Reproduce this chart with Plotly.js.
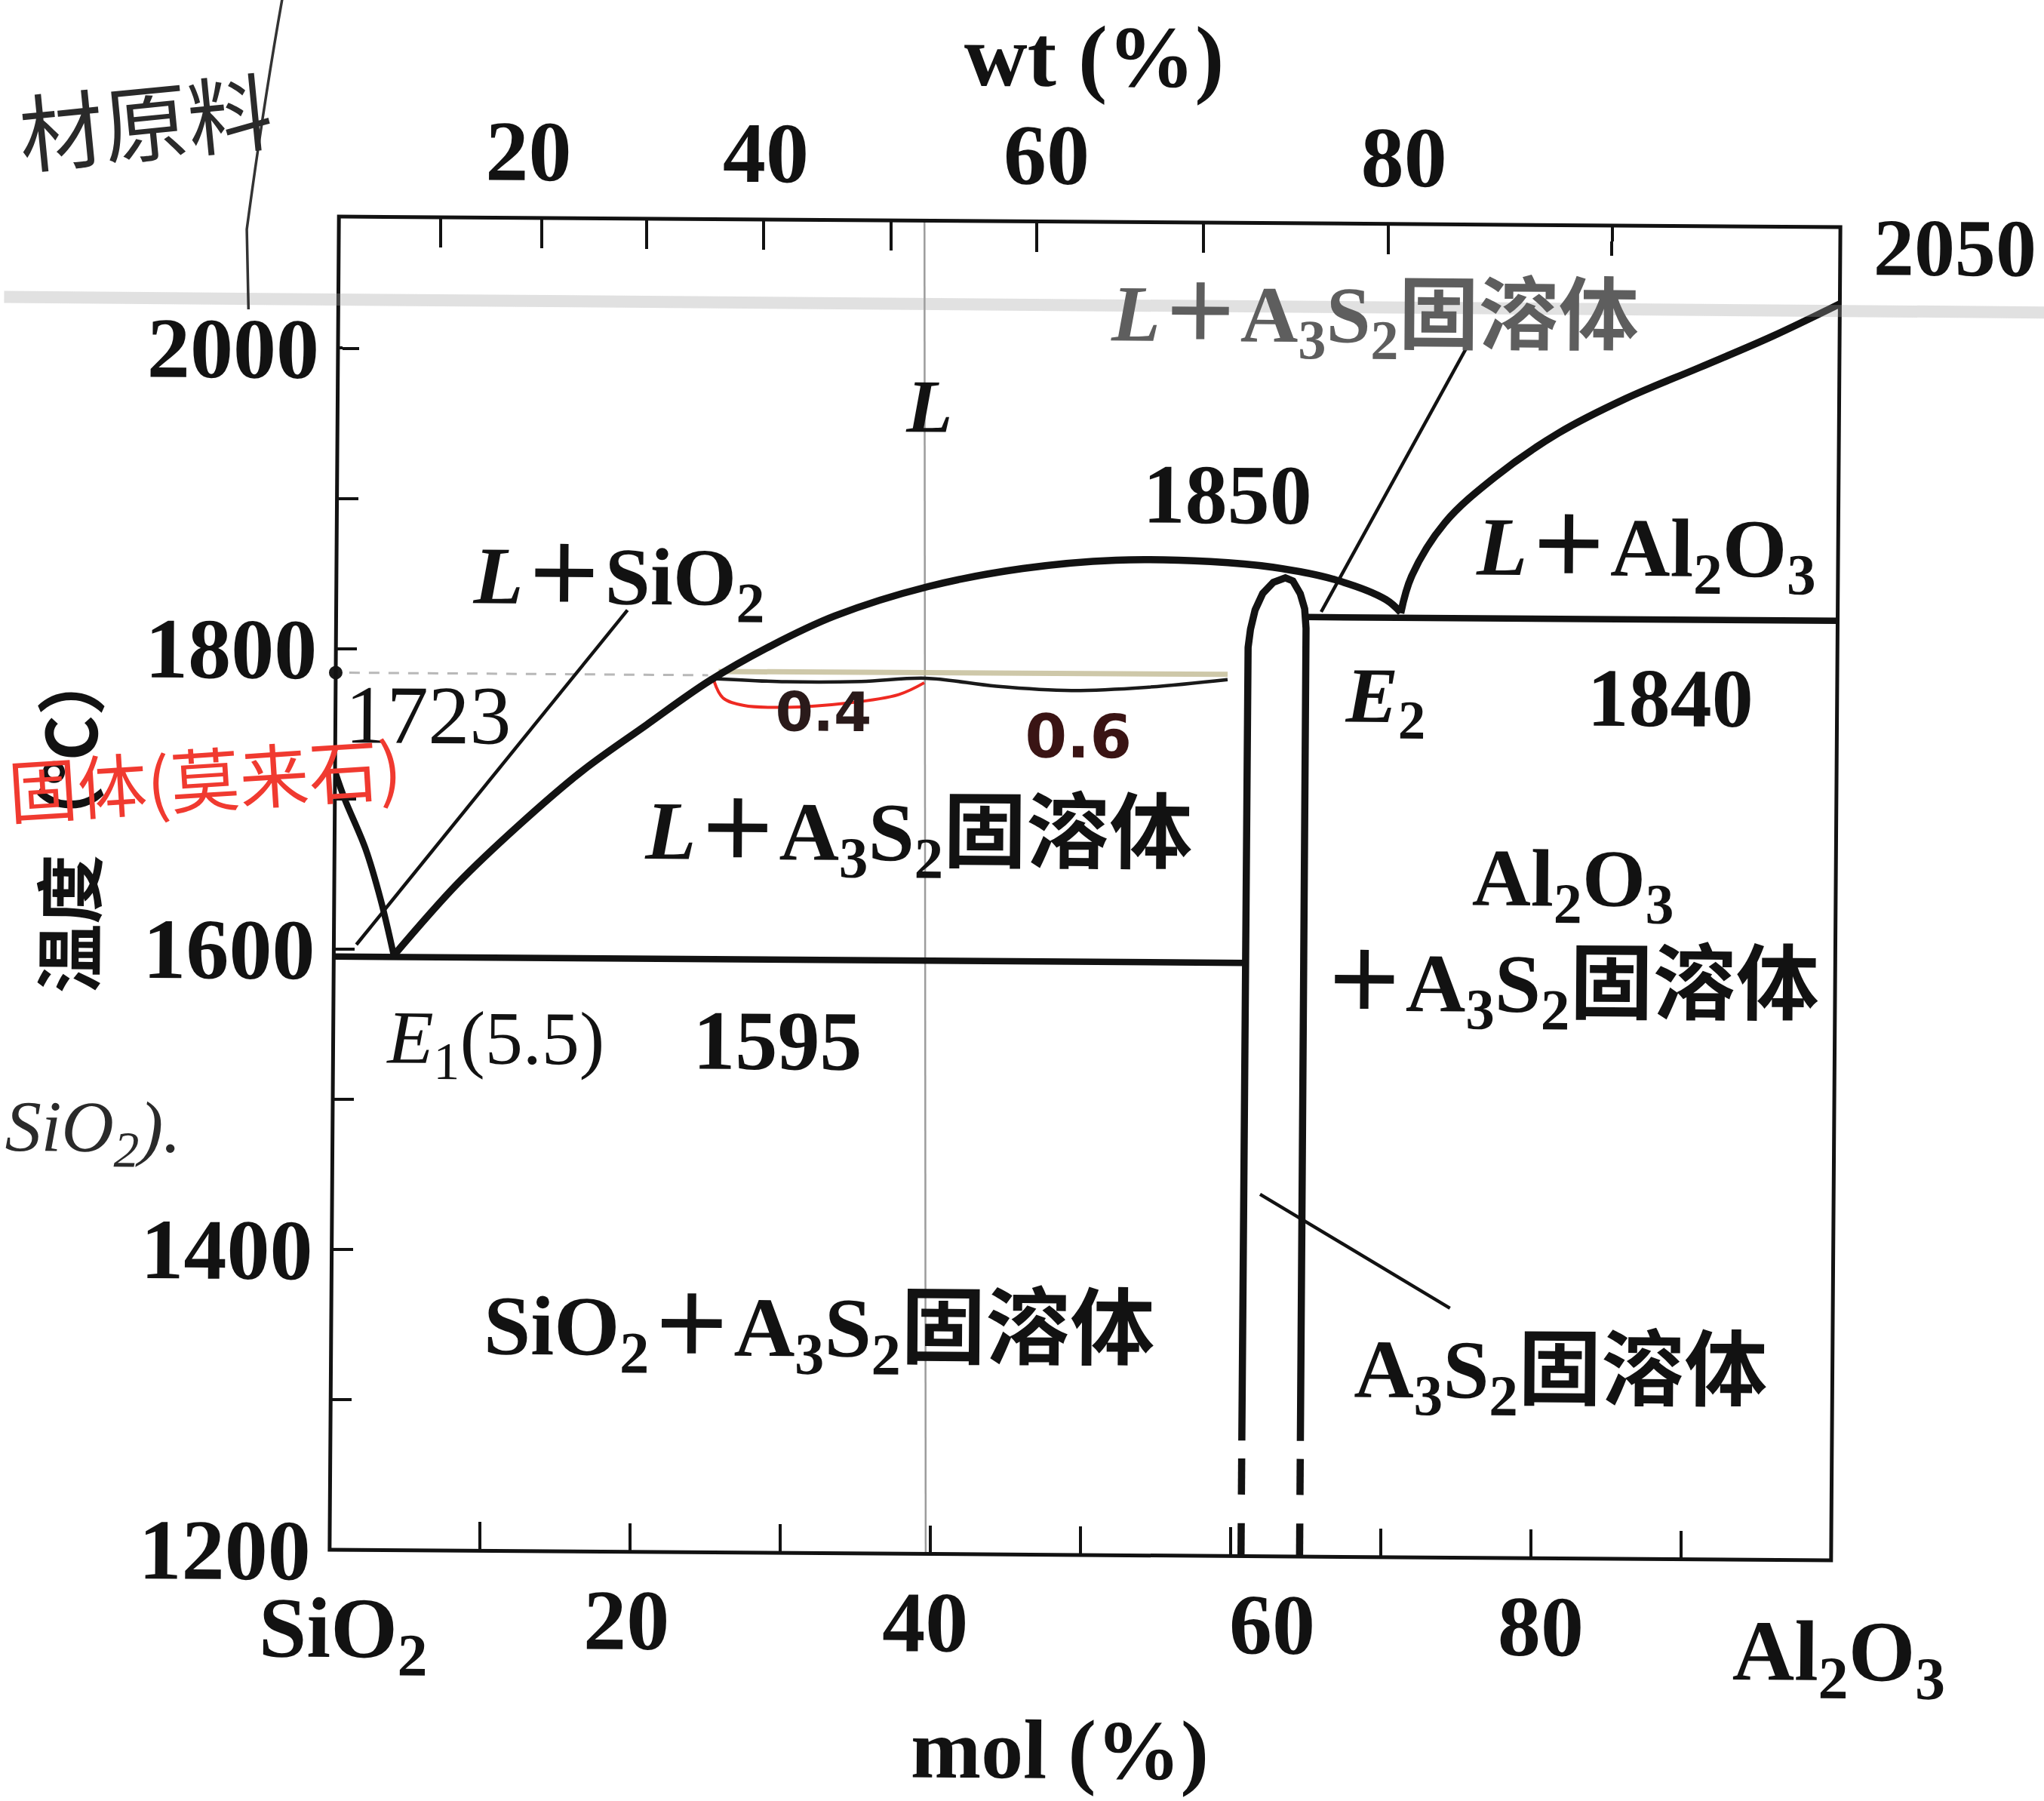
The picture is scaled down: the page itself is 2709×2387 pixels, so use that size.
<!DOCTYPE html>
<html>
<head>
<meta charset="utf-8">
<script src="https://cdn.plot.ly/plotly-3.0.1.min.js"></script>
<style>
  html, body { margin: 0; padding: 0; background: #ffffff; overflow: hidden; }
  #chart { width: 2709px; height: 2387px; transform: rotate(0.4deg); transform-origin: 1438px 1177px; }
</style>
</head>
<body>
<div id="chart"></div>
<script>
// ---------------- data ----------------
// composition: mol % Al2O3 (bottom axis); temperature in °C
const molTicks = [10, 20, 30, 40, 50, 60, 70, 80, 90];
const molLabelPos = [19.8, 39.7, 62.8, 80.7];
const molLabels = ['20', '40', '60', '80'];
// positions (in mol %) of the wt % ticks printed on the top axis
const wtTickMol = [6.8, 13.5, 20.5, 28.3, 36.8, 46.5, 57.6, 69.9, 84.8];
const wtLabelPos = [12.6, 28.4, 47.1, 70.9];
const wtLabels = ['20', '40', '60', '80'];
const tempTicks = [1200, 1300, 1400, 1500, 1600, 1700, 1800, 1900, 2000];
const tempLabelVals = [1200, 1400, 1600, 1800, 2000];
const tempLabels = ['1200', '1400', '1600', '1800', '2000'];

// SiO2 liquidus: 1723 -> E1
const sio2LiqX = [0, 0.65, 2.06, 3.1, 4.0];
const sio2LiqT = [1718, 1700, 1667, 1633, 1596];
// A3S2 (mullite) liquidus: E1 -> maximum -> E2
const mulLiqX = [4.0, 8.2, 12.35, 16.5, 20.7, 24.85, 29.0, 33.2, 39.4, 45.7, 51.9, 58.2, 62.35, 66.5, 69.9, 70.9];
const mulLiqT = [1596, 1644, 1684, 1720, 1750.5, 1780, 1804, 1824, 1844, 1856.5, 1862.5, 1862, 1858.5, 1850.5, 1837.5, 1829];
// Al2O3 liquidus: E2 -> 2050
const aluLiqX = [70.9, 71.6, 73.8, 77.1, 81.3, 85.8, 90.7, 95.5, 100];
const aluLiqT = [1828.5, 1853, 1889, 1919.5, 1949, 1972.5, 1993.5, 2014.5, 2036.5];
// eutectic lines
const eut1X = [0, 60.7];
const eut1T = [1595, 1595];
const eut2X = [64.6, 100];
const eut2T = [1825.5, 1825.5];
// A3S2 solid-solution field (two legs joined by a dome)
const ssX = [60.7, 60.7, 60.75, 60.9, 61.2, 61.7, 62.4, 63.2, 63.7, 64.2, 64.5, 64.6, 64.6, 64.6];
const ssT = [1277, 1790, 1805, 1817, 1830, 1841, 1848.5, 1851.5, 1849.5, 1841, 1831, 1818, 1800, 1277];
// dashed lower part of the two legs
const ssDashLX = [60.7, 60.7, null, 60.7, 60.7];
const ssDashRX = [64.6, 64.6, null, 64.6, 64.6];
const ssDashT = [1265, 1241, null, 1222, 1200];
// leader lines
const leadSio2X = [19.4, 1.5];
const leadSio2T = [1827, 1603];
const leadTopX = [75.4, 65.6];
const leadTopT = [2010, 1829];
const leadSsX = [74.5, 61.8];
const leadSsT = [1366, 1441];
// pencil / pen marks on the scan
const pencilVX = [39.7, 39.0];
const pencilVT = [1200, 2087.6];
const greyDashX = [0.9, 24.8];
const greyDashT = [1784, 1784];
const tieX = [24.85, 30, 35, 39.3, 44, 49, 54, 59.4];
const tieT = [1782, 1780, 1780.5, 1783, 1778, 1775.5, 1778, 1783.5];
const tieHiX = [25.5, 59.4];
const tieHiT = [1786.5, 1787];
const braceX = [25.2, 25.8, 27.2, 30, 34, 37.5, 39.2];
const braceT = [1780, 1769, 1764, 1763, 1766, 1772, 1780];
const dotX = [0];
const dotT = [1784];

// ---------------- drawing ----------------
const SERIF = 'Liberation Serif, "Noto Sans CJK SC", serif';
const CJK = '"Noto Sans CJK SC", sans-serif';
const INK = '#121212';

function line(x, y, w, color, extra) {
  return Object.assign({
    type: 'scatter', mode: 'lines', x: x, y: y, xaxis: 'x', yaxis: 'y',
    line: { color: color || INK, width: w }, hoverinfo: 'skip', showlegend: false
  }, extra || {});
}
function axisHolder(xa, ya) {
  return { type: 'scatter', mode: 'none', x: [0, 100], y: [1200, 2000], xaxis: xa, yaxis: ya,
    hoverinfo: 'skip', showlegend: false };
}

const traces = [
  line(pencilVX, pencilVT, 2.5, '#9c9c9c'),
  line(greyDashX, greyDashT, 3, '#b8b8b8', { line: { color: '#b8b8b8', width: 3, dash: '14px,12px' } }),
  line(tieHiX, tieHiT, 7, 'rgba(190,182,140,0.75)'),
  line(tieX, tieT, 4.5, '#1a1a1a', { line: { color: '#1a1a1a', width: 4.5, shape: 'spline' } }),
  line(braceX, braceT, 4, '#ee2a22', { line: { color: '#ee2a22', width: 4, shape: 'spline' } }),
  line(sio2LiqX, sio2LiqT, 8.5, INK, { line: { color: INK, width: 8.5, shape: 'spline' } }),
  line(mulLiqX, mulLiqT, 9.5, INK, { line: { color: INK, width: 9.5, shape: 'spline' } }),
  line(aluLiqX, aluLiqT, 9.5, INK, { line: { color: INK, width: 9.5, shape: 'spline' } }),
  line(eut1X, eut1T, 8.5),
  line(eut2X, eut2T, 8.5),
  line(ssX, ssT, 9.5),
  line(ssDashLX, ssDashT, 9.5),
  line(ssDashRX, ssDashT, 9.5),
  line(leadSio2X, leadSio2T, 4.5),
  line(leadTopX, leadTopT, 4.5),
  line(leadSsX, leadSsT, 4.5),
  { type: 'scatter', mode: 'markers', x: dotX, y: dotT, xaxis: 'x', yaxis: 'y',
    marker: { color: '#1a1a1a', size: 18 }, hoverinfo: 'skip', showlegend: false, cliponaxis: false },
  axisHolder('x2', 'y'),
  axisHolder('x3', 'y'),
  axisHolder('x4', 'y'),
  axisHolder('x', 'y2')
];

function lab(text, x, y, size, extra) {
  return Object.assign({
    text: text, x: x, y: y, xref: 'x', yref: 'y', showarrow: false,
    font: { family: SERIF, size: size, color: INK, weight: 'bold' }, xanchor: 'center', yanchor: 'middle'
  }, extra || {});
}
function plab(text, x, y, size, extra) {
  return lab(text, x, y, size, Object.assign({ xref: 'paper', yref: 'paper' }, extra || {}));
}

const A3S2 = 'A<sub>3</sub>S<sub>2</sub>';
const annotations = [
  lab('<i>L</i>', 39.4, 1964, 100),
  lab('1850', 59.3, 1907, 112),
  lab('<i>L</i>＋SiO<sub>2</sub>', 18.8, 1845, 108),
  lab('1723', 6.2, 1756, 110, { font: { family: SERIF, size: 110, color: INK } }),
  lab('<i>L</i>＋' + A3S2 + '固溶体', 38.9, 1676, 110),
  lab('<i>E</i><sub>1</sub>(5.5)', 10.8, 1538, 100, { font: { family: SERIF, size: 100, color: INK } }),
  lab('1595', 29.6, 1541, 112),
  lab('SiO<sub>2</sub>＋' + A3S2 + '固溶体', 32.5, 1346, 112),
  lab('<i>E</i><sub>2</sub>', 69.9, 1770, 104),
  lab('1840', 88.9, 1773, 110),
  lab('<i>L</i>＋Al<sub>2</sub>O<sub>3</sub>', 87.2, 1869, 110),
  lab('Al<sub>2</sub>O<sub>3</sub>', 82.5, 1649, 108),
  lab('＋' + A3S2 + '固溶体', 82.4, 1578, 110),
  lab(A3S2 + '固溶体', 81.9, 1321, 110),
  lab('<i>L</i>＋' + A3S2 + '固溶体', 69.0, 2023, 106, { font: { family: SERIF, size: 106, color: '#5e5e5e', weight: 'bold' } }),
  // axis end labels and titles
  plab('SiO<sub>2</sub>', 0.0095, -0.063, 114),
  plab('Al<sub>2</sub>O<sub>3</sub>', 1.006, -0.073, 114),
  plab('mol (%)', 0.487, -0.146, 112),
  plab('wt (%)', 0.5025, 1.124, 116),
  plab('2050', 1.021, 0.985, 108, { xanchor: 'left' }),
  plab('温度（℃）', -0.179, 0.546, 92, { textangle: -90,
    font: { family: CJK, size: 92, color: INK, weight: 'bold' } }),
  // handwriting on the scan
  lab('0.4', 32.5, 1760, 72, { font: { family: '"DejaVu Sans", sans-serif', size: 72, color: '#2a1a1a', weight: 'bold' } }),
  lab('0.6', 49.5, 1745, 80, { font: { family: '"DejaVu Sans", sans-serif', size: 80, color: '#3a1414', weight: 'bold' } }),
  plab('固体(莫来石)', -0.221, 0.58, 92, { xanchor: 'left', textangle: -4,
    font: { family: CJK, size: 92, color: '#f03a30' } }),
  plab('材原料', -0.219, 1.073, 112, { xanchor: 'left', textangle: -6,
    font: { family: CJK, size: 112, color: '#2a2a2a' } }),
  plab('SiO<sub>2</sub>).', -0.219, 0.312, 96, { xanchor: 'left',
    font: { family: SERIF, size: 96, color: '#2a2a2a', style: 'italic' } })
];

const shapes = [
  // plot frame
  { type: 'rect', xref: 'paper', yref: 'paper', x0: 0, x1: 1, y0: 0, y1: 1,
    line: { color: INK, width: 5 }, layer: 'above' },
  // fold of the paper
  { type: 'line', xref: 'paper', yref: 'paper', x0: -0.23, x1: 1.15, y0: 0.938, y1: 0.937,
    line: { color: 'rgba(165,165,165,0.33)', width: 16 }, layer: 'above' },
  // pencil stroke top-left
  { type: 'path', xref: 'paper', yref: 'paper',
    path: 'M -0.0377 1.17 Q -0.05 1.09 -0.0613 0.99 L -0.0598 0.93',
    line: { color: '#333333', width: 3.5 } }
];

const tickFont = { family: SERIF, size: 114, color: INK, weight: 'bold' };

const layout = {
  width: 2709, height: 2387,
  margin: { l: 443, r: 276, t: 294, b: 326, pad: 0 },
  paper_bgcolor: '#ffffff', plot_bgcolor: '#ffffff',
  showlegend: false,
  // bottom axis: tick marks only
  xaxis: {
    range: [0, 100], showgrid: false, zeroline: false, showline: false,
    tickmode: 'array', tickvals: molTicks, ticks: 'inside', ticklen: 38, tickwidth: 4, tickcolor: INK,
    showticklabels: false, automargin: false
  },
  // bottom axis: labels
  xaxis3: {
    range: [0, 100], overlaying: 'x', anchor: 'y', side: 'bottom',
    showgrid: false, zeroline: false, showline: false, ticks: '',
    tickmode: 'array', tickvals: molLabelPos, ticktext: molLabels,
    tickfont: tickFont, ticklabelstandoff: 14, automargin: false
  },
  // top axis (wt %): tick marks only
  xaxis2: {
    range: [0, 100], overlaying: 'x', anchor: 'y', side: 'top',
    showgrid: false, zeroline: false, showline: false,
    tickmode: 'array', tickvals: wtTickMol, showticklabels: false,
    ticks: 'inside', ticklen: 40, tickwidth: 4, tickcolor: INK, automargin: false
  },
  // top axis (wt %): labels
  xaxis4: {
    range: [0, 100], overlaying: 'x', anchor: 'y', side: 'top',
    showgrid: false, zeroline: false, showline: false, ticks: '',
    tickmode: 'array', tickvals: wtLabelPos, ticktext: wtLabels,
    tickfont: tickFont, ticklabelstandoff: 26, automargin: false
  },
  // temperature axis: tick marks only
  yaxis: {
    range: [1200, 2087.6], showgrid: false, zeroline: false, showline: false,
    tickmode: 'array', tickvals: tempTicks, showticklabels: false,
    ticks: 'inside', ticklen: 28, tickwidth: 4, tickcolor: INK, automargin: false
  },
  // temperature axis: labels
  yaxis2: {
    range: [1200, 2087.6], overlaying: 'y', anchor: 'x', side: 'left',
    showgrid: false, zeroline: false, showline: false, ticks: '',
    tickmode: 'array', tickvals: tempLabelVals, ticktext: tempLabels,
    tickfont: tickFont, ticklabelstandoff: 24, automargin: false
  },
  annotations: annotations,
  shapes: shapes
};

Plotly.newPlot('chart', traces, layout, { displayModeBar: false, staticPlot: true });
</script>
</body>
</html>
